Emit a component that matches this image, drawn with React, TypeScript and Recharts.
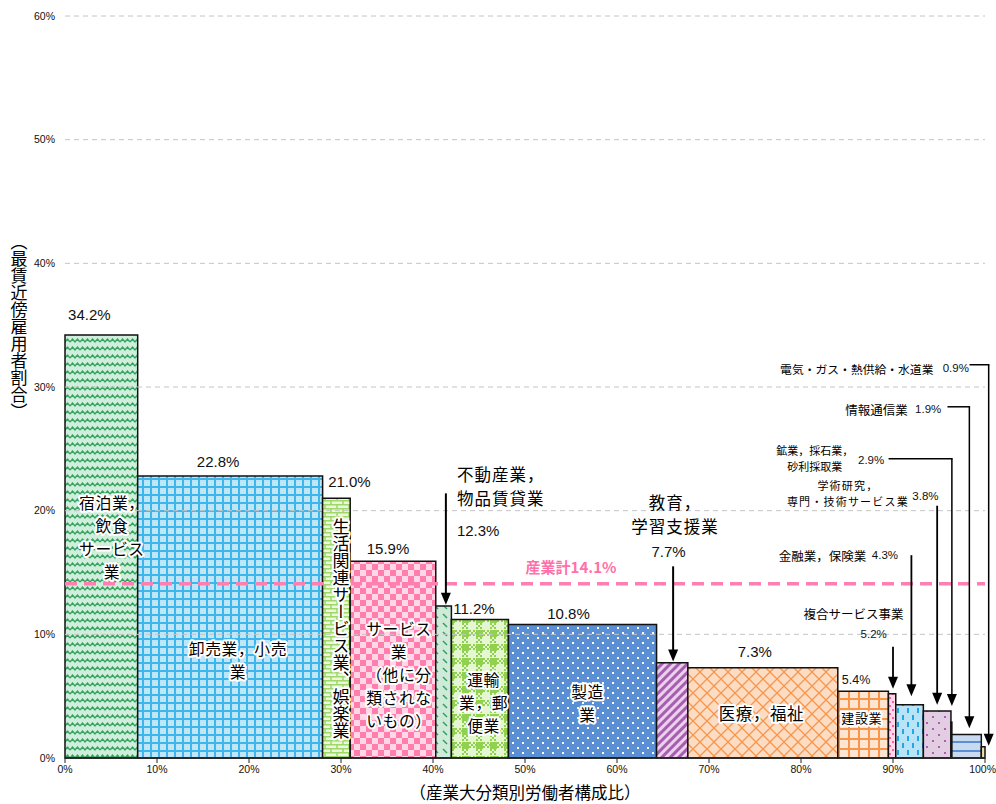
import React from 'react';
import { ComposedChart, XAxis, YAxis, ReferenceArea, ReferenceLine, ReferenceDot } from 'recharts';

// ---------------- data ----------------
const industries = [
  '宿泊業，飲食サービス業', '卸売業，小売業', '生活関連サービス業，娯楽業', 'サービス業（他に分類されないもの）',
  '不動産業，物品賃貸業', '運輸業，郵便業', '製造業', '教育，学習支援業', '医療，福祉', '建設業',
  '複合サービス事業', '金融業，保険業', '学術研究，専門・技術サービス業', '鉱業，採石業，砂利採取業',
  '情報通信業', '電気・ガス・熱供給・水道業',
];
// 最賃近傍雇用者割合 (%)
const nearMinWageShare = [34.2, 22.8, 21.0, 15.9, 12.3, 11.2, 10.8, 7.7, 7.3, 5.4, 5.2, 4.3, 3.8, 2.9, 1.9, 0.9];
// 産業大分類別労働者構成比 (%)
const workerShare = [7.9, 20.1, 3.0, 9.3, 1.7, 6.2, 16.1, 3.4, 16.3, 5.5, 0.8, 3.0, 3.0, 0.1, 3.2, 0.4];
const industryTotal = 14.1;
const totalLabel = '産業計';
const xTicks = [0, 10, 20, 30, 40, 50, 60, 70, 80, 90, 100];
const yTicks = [0, 10, 20, 30, 40, 50, 60];
const xAxisTitle = '（産業大分類別労働者構成比）';
const yAxisTitle = '（最賃近傍雇用者割合）';

// ---------------- layout / styles ----------------
const FONT = '"Noto Sans CJK JP", "Noto Sans", sans-serif';
const NUM = '"Liberation Sans Narrow", "Liberation Sans", Arial, sans-serif';
const fillIds = ['pZig', 'pGrid', 'pBrick', 'pChecker', 'pDiag', 'pPlaid', 'pDots', 'pStripe', 'pLattice', 'pBuild', 'pPinkDots', 'pDash', 'pPurpleDots', 'pMining', 'pLines', 'pTan'];

// value labels above bars: offset from bar top centre (px); null = shown via annotation
const valueLabelLayout: ({ dx: number; dy: number; fs: number } | null)[] = [
  { dx: -12, dy: 21, fs: 15 }, { dx: -12, dy: 15, fs: 15 }, { dx: 13, dy: 17, fs: 15 }, { dx: -5, dy: 13, fs: 15 },
  null, { dx: -6, dy: 11, fs: 15 }, { dx: -14, dy: 11, fs: 15 }, null, { dx: -8, dy: 16, fs: 15 },
  { dx: -7, dy: 11, fs: 12.5 }, null, null, null, null, null, null,
];

// labels inside bars (positions in data units)
const innerLabels = [
  { lines: ['宿泊業，', '飲食', 'サービス', '業'], x: 5.1, y: 20.7, lh: 23, fs: 15.8 },
  { lines: ['卸売業，小売', '業'], x: 18.8, y: 8.93, lh: 23, fs: 15.8 },
  { lines: ['サービス', '業', '（他に分', '類されな', 'いもの）'], x: 36.3, y: 10.55, lh: 23, fs: 15.8 },
  { lines: ['運輸', '業，郵', '便業'], x: 45.5, y: 6.35, lh: 23, fs: 15.8 },
  { lines: ['製造', '業'], x: 56.8, y: 5.38, lh: 23, fs: 15.8 },
  { lines: ['医療，福祉'], x: 75.7, y: 3.6, lh: 23, fs: 16.5 },
  { lines: ['建設業'], x: 86.6, y: 3.3, lh: 22, fs: 13 },
];
const verticalLabel = { text: '生活関連サービス業、娯楽業', x: 30.0, y: 10.5, fs: 17 };

// annotations with arrows (data units)
type Ann = {
  idx: number; lines: string[]; tx: number; ty: number; lh: number; fs: number; ls?: number; anchor: 'start' | 'middle' | 'end';
  vx: number; vy: number; vAnchor: 'start' | 'middle' | 'end'; vfs: number;
  ax: number; ay1: number; ay2: number; hx1?: number; sw: number;
};
const annotations: Ann[] = [
  { idx: 4, lines: ['不動産業，', '物品賃貸業'], tx: 42.6, ty: 23.0, lh: 24, fs: 16.5, ls: 1, anchor: 'start', vx: 42.6, vy: 18.4, vAnchor: 'start', vfs: 15, ax: 41.4, ay1: 21.4, ay2: 12.4, sw: 2 },
  { idx: 7, lines: ['教育，', '学習支援業'], tx: 66.3, ty: 20.7, lh: 24, fs: 16.5, ls: 1, anchor: 'middle', vx: 65.6, vy: 16.7, vAnchor: 'middle', vfs: 15, ax: 66.1, ay1: 15.5, ay2: 7.8, sw: 2 },
  { idx: 10, lines: ['複合サービス事業'], tx: 85.7, ty: 11.7, lh: 16, fs: 12.5, anchor: 'middle', vx: 87.9, vy: 10.0, vAnchor: 'middle', vfs: 11.5, ax: 90.0, ay1: 9.0, ay2: 5.6, sw: 1.8 },
  { idx: 11, lines: ['金融業，保険業'], tx: 87.1, ty: 16.4, lh: 16, fs: 12.5, anchor: 'end', vx: 87.7, vy: 16.4, vAnchor: 'start', vfs: 11.5, ax: 92.0, ay1: 16.4, ay2: 5.0, sw: 1.8 },
  { idx: 12, lines: ['学術研究，', '専門・技術サービス業'], tx: 85.1, ty: 22.07, lh: 16, fs: 11, ls: 1.2, anchor: 'middle', vx: 92.1, vy: 21.2, vAnchor: 'start', vfs: 11.5, ax: 94.8, ay1: 20.4, ay2: 4.3, sw: 1.8 },
  { idx: 13, lines: ['鉱業，採石業，', '砂利採取業'], tx: 81.5, ty: 24.9, lh: 16, fs: 11, anchor: 'middle', vx: 86.2, vy: 24.1, vAnchor: 'start', vfs: 11.5, ax: 96.4, ay1: 24.2, ay2: 4.2, hx1: 89.6, sw: 1.5 },
  { idx: 14, lines: ['情報通信業'], tx: 91.6, ty: 28.2, lh: 16, fs: 12.5, anchor: 'end', vx: 92.4, vy: 28.2, vAnchor: 'start', vfs: 11.5, ax: 98.3, ay1: 28.4, ay2: 2.4, hx1: 96.0, sw: 1.5 },
  { idx: 15, lines: ['電気・ガス・熱供給・水道業'], tx: 94.4, ty: 31.5, lh: 16, fs: 11.8, anchor: 'end', vx: 95.4, vy: 31.5, vAnchor: 'start', vfs: 11.5, ax: 100.4, ay1: 31.8, ay2: 1.0, hx1: 98.4, sw: 1.5 },
];

// ---------------- derived ----------------
const starts: number[] = [];
workerShare.reduce((acc, w, i) => { starts[i] = acc; return acc + w; }, 0);
const rows = industries.map((name, i) => ({ name, x0: starts[i], x1: starts[i] + workerShare[i], value: nearMinWageShare[i] }));
const fmt = (v: number) => `${v.toFixed(1)}%`;

const haloProps = { stroke: '#fff', strokeWidth: 4, strokeLinejoin: 'round' as const, paintOrder: 'stroke' as const };

const Patterns = () => (
  <defs>
    <pattern id="pZig" width="10" height="8" patternUnits="userSpaceOnUse">
      <rect width="10" height="8" fill="#d0eedb" />
      <path d="M0,6 L2.5,3 L5,6 L7.5,3 L10,6" fill="none" stroke="#34a360" strokeWidth="1.4" />
    </pattern>
    <pattern id="pGrid" width="8" height="8" patternUnits="userSpaceOnUse">
      <rect width="8" height="8" fill="#bfe6f8" />
      <rect x="6" y="0" width="2" height="8" fill="#3db6ec" />
      <rect x="0" y="6" width="8" height="2" fill="#3db6ec" />
    </pattern>
    <pattern id="pBrick" width="12" height="8" patternUnits="userSpaceOnUse">
      <rect width="12" height="8" fill="#ebf7dc" />
      <path d="M0,0.75 H12 M0,4.75 H12 M1,0 V4 M7,4 V8" stroke="#9fd868" strokeWidth="1.5" fill="none" />
    </pattern>
    <pattern id="pChecker" width="12" height="12" patternUnits="userSpaceOnUse">
      <rect width="12" height="12" fill="#ffd7e6" />
      <rect width="6" height="6" fill="#ff7eae" />
      <rect x="6" y="6" width="6" height="6" fill="#ff7eae" />
    </pattern>
    <pattern id="pDiag" width="9" height="9" patternUnits="userSpaceOnUse">
      <rect width="9" height="9" fill="#cdebd8" />
      <path d="M2,2 L6,6" stroke="#2f9e58" strokeWidth="1.5" />
    </pattern>
    <pattern id="pPlaid" width="14" height="14" patternUnits="userSpaceOnUse">
      <rect width="14" height="14" fill="#e4f6d2" />
      <rect width="7" height="7" fill="#92d050" />
      <rect x="7" y="0" width="2" height="2" fill="#92d050" />
      <rect x="11" y="0" width="2" height="2" fill="#92d050" />
      <rect x="9" y="2" width="2" height="2" fill="#92d050" />
      <rect x="13" y="2" width="1" height="2" fill="#92d050" />
      <rect x="7" y="4" width="2" height="2" fill="#92d050" />
      <rect x="11" y="4" width="2" height="2" fill="#92d050" />
      <rect x="0" y="7" width="2" height="2" fill="#92d050" />
      <rect x="4" y="7" width="2" height="2" fill="#92d050" />
      <rect x="2" y="9" width="2" height="2" fill="#92d050" />
      <rect x="0" y="11" width="2" height="2" fill="#92d050" />
      <rect x="4" y="11" width="2" height="2" fill="#92d050" />
    </pattern>
    <pattern id="pDots" width="10" height="10" patternUnits="userSpaceOnUse">
      <rect width="10" height="10" fill="#5b8fd3" />
      <rect x="2" y="2" width="2" height="2" fill="#fff" />
      <rect x="7" y="7" width="2" height="2" fill="#fff" />
    </pattern>
    <pattern id="pStripe" width="6" height="6" patternUnits="userSpaceOnUse" patternTransform="rotate(45)">
      <rect width="6" height="6" fill="#ecd0ec" />
      <rect width="3" height="6" fill="#a55fb0" />
    </pattern>
    <pattern id="pLattice" width="14" height="14" patternUnits="userSpaceOnUse">
      <rect width="14" height="14" fill="#fddcc4" />
      <path d="M0,0 L14,14 M14,0 L0,14" stroke="#f7964a" strokeWidth="1.3" />
    </pattern>
    <pattern id="pBuild" width="10" height="10" patternUnits="userSpaceOnUse">
      <rect width="10" height="10" fill="#fde5d2" />
      <rect x="8" y="0" width="2.2" height="10" fill="#f7964a" />
      <rect x="0" y="8" width="10" height="2.2" fill="#f7964a" />
    </pattern>
    <pattern id="pPinkDots" width="6" height="8" patternUnits="userSpaceOnUse">
      <rect width="6" height="8" fill="#ffd9e8" />
      <rect x="1" y="1" width="2" height="2" fill="#ff5fa2" />
      <rect x="4" y="5" width="2" height="2" fill="#ff5fa2" />
    </pattern>
    <pattern id="pDash" width="10" height="14" patternUnits="userSpaceOnUse">
      <rect width="10" height="14" fill="#b9e4f8" />
      <rect x="2" y="1" width="2" height="5" fill="#1fa8e3" />
      <rect x="7" y="8" width="2" height="5" fill="#1fa8e3" />
    </pattern>
    <pattern id="pPurpleDots" width="12" height="12" patternUnits="userSpaceOnUse">
      <rect width="12" height="12" fill="#e3cde3" />
      <rect x="2" y="2" width="2" height="2" fill="#b05cb0" />
      <rect x="8" y="8" width="2" height="2" fill="#b05cb0" />
    </pattern>
    <pattern id="pMining" width="4" height="4" patternUnits="userSpaceOnUse">
      <rect width="4" height="4" fill="#d9d9d9" />
    </pattern>
    <pattern id="pLines" width="9" height="9" patternUnits="userSpaceOnUse">
      <rect width="9" height="9" fill="#c9daf0" />
      <rect x="0" y="3" width="9" height="2" fill="#5b8fd3" />
    </pattern>
    <pattern id="pTan" width="4" height="4" patternUnits="userSpaceOnUse">
      <rect width="4" height="4" fill="#f2dfae" />
    </pattern>
  </defs>
);

const arrowShape = (sw: number) => (p: any) => {
  const { x1, y1, x2, y2 } = p;
  const head = 12;
  const half = 5;
  return (
    <g>
      <line x1={x1} y1={y1} x2={x2} y2={y2 - head + 1} stroke="#000" strokeWidth={sw} />
      <polygon points={`${x2 - half},${y2 - head} ${x2 + half},${y2 - head} ${x2},${y2}`} fill="#000" />
    </g>
  );
};
const plainLine = (sw: number) => (p: any) => (
  <line x1={p.x1 - sw / 2} y1={p.y1} x2={p.x2 + sw / 2} y2={p.y2} stroke="#000" strokeWidth={sw} />
);

const multiLine = (cx: number, cy: number, lines: string[], lh: number, extra: any) => (
  <text x={cx} y={cy} dominantBaseline="central" {...extra}>
    {lines.map((l, j) => (
      <tspan key={j} x={cx} dy={j === 0 ? 0 : lh}>
        {l}
      </tspan>
    ))}
  </text>
);

const XTick = (props: any) => {
  const { x, y, payload } = props;
  const last = payload.value === 100;
  return (
    <text x={last ? x + 11 : x} y={y} dy={8} textAnchor={last ? 'end' : 'middle'} fontSize={10.5} fontFamily={NUM} fill="#111">
      {`${payload.value}%`}
    </text>
  );
};

export default function App() {
  return (
    <div style={{ position: 'absolute', left: 0, top: 0, width: 996, height: 804, background: '#fff' }}>
      <ComposedChart width={996} height={804} data={rows} margin={{ top: 16, right: 11, bottom: 0, left: 25 }}>
        <Patterns />
        <XAxis
          type="number"
          dataKey="x0"
          domain={[0, 100]}
          ticks={xTicks}
          interval={0}
          height={46}
          tickSize={5}
          tickMargin={2}
          axisLine={{ stroke: '#222', strokeWidth: 1.5 }}
          tickLine={{ stroke: '#222' }}
          tick={<XTick />}
          label={(p: any) => (
            <text
              x={p.viewBox.x + p.viewBox.width / 2}
              y={792}
              fontSize={16.5}
              fontFamily={FONT}
              fill="#000"
              textAnchor="middle"
              dominantBaseline="central"
            >
              {xAxisTitle}
            </text>
          )}
        />
        <YAxis
          type="number"
          dataKey="value"
          domain={[0, 60]}
          ticks={yTicks}
          interval={0}
          width={40}
          tickFormatter={(v: number) => `${v}%`}
          axisLine={false}
          tickLine={false}
          tickMargin={4}
          tick={{ fontSize: 10.5, fill: '#111', fontFamily: NUM }}
          label={(p: any) => (
            <text
              x={p.viewBox.x - 6}
              y={327}
              fontSize={17}
              fontFamily={FONT}
              fill="#000"
              textAnchor="middle"
              style={{ writingMode: 'vertical-rl' as any }}
            >
              {yAxisTitle}
            </text>
          )}
        />

        {rows.map((r, i) => {
          const vl = valueLabelLayout[i];
          return (
            <ReferenceArea
              key={`bar-${i}`}
              x1={r.x0}
              x2={r.x1}
              y1={0}
              y2={r.value}
              fill={`url(#${fillIds[i]})`}
              fillOpacity={1}
              stroke="#111"
              strokeWidth={1.5}
              ifOverflow="visible"
              label={
                vl
                  ? (p: any) => (
                      <text
                        x={p.viewBox.x + p.viewBox.width / 2 + vl.dx}
                        y={p.viewBox.y - vl.dy}
                        fontSize={vl.fs}
                        fontFamily={NUM}
                        fill="#111"
                        textAnchor="middle"
                        dominantBaseline="central"
                      >
                        {fmt(r.value)}
                      </text>
                    )
                  : undefined
              }
            />
          );
        })}

        {yTicks.filter((t) => t > 0).map((t) => (
          <ReferenceLine key={`g-${t}`} y={t} stroke="#c4c4c4" strokeDasharray="5 4" strokeWidth={1} />
        ))}

        <ReferenceLine y={industryTotal} stroke="#ff80b0" strokeWidth={3.5} strokeDasharray="12 7" />

        {annotations.map((a) => (
          <ReferenceLine
            key={`arr-${a.idx}`}
            segment={[{ x: a.ax, y: a.ay1 }, { x: a.ax, y: a.ay2 }]}
            ifOverflow="visible"
            shape={arrowShape(a.sw)}
          />
        ))}
        {annotations.filter((a) => a.hx1 !== undefined).map((a) => (
          <ReferenceLine
            key={`h-${a.idx}`}
            segment={[{ x: a.hx1 as number, y: a.ay1 }, { x: a.ax, y: a.ay1 }]}
            ifOverflow="visible"
            shape={plainLine(a.sw)}
          />
        ))}

        {innerLabels.map((lab, k) => (
          <ReferenceDot
            key={`in-${k}`}
            x={lab.x}
            y={lab.y}
            ifOverflow="visible"
            shape={(p: any) =>
              multiLine(p.cx, p.cy, lab.lines, lab.lh, {
                fontSize: lab.fs,
                fontFamily: FONT,
                fill: '#000',
                textAnchor: 'middle',
                letterSpacing: 0.6,
                ...haloProps,
              })
            }
          />
        ))}
        <ReferenceDot
          x={verticalLabel.x}
          y={verticalLabel.y}
          ifOverflow="visible"
          shape={(p: any) => (
            <text x={p.cx} y={p.cy} fontSize={verticalLabel.fs} fontFamily={FONT} fill="#000" textAnchor="middle" style={{ writingMode: 'vertical-rl' as any }} {...haloProps}>
              {verticalLabel.text}
            </text>
          )}
        />

        {annotations.map((a) => (
          <ReferenceDot
            key={`at-${a.idx}`}
            x={a.tx}
            y={a.ty}
            ifOverflow="visible"
            shape={(p: any) =>
              multiLine(p.cx, p.cy, a.lines, a.lh, {
                fontSize: a.fs,
                fontFamily: FONT,
                fill: '#000',
                textAnchor: a.anchor,
                letterSpacing: a.ls ?? 0,
              })
            }
          />
        ))}
        {annotations.map((a) => (
          <ReferenceDot
            key={`av-${a.idx}`}
            x={a.vx}
            y={a.vy}
            ifOverflow="visible"
            shape={(p: any) => (
              <text x={p.cx} y={p.cy} fontSize={a.vfs} fontFamily={NUM} fill="#111" textAnchor={a.vAnchor} dominantBaseline="central">
                {fmt(nearMinWageShare[a.idx])}
              </text>
            )}
          />
        ))}

        <ReferenceDot
          x={55.0}
          y={15.5}
          ifOverflow="visible"
          shape={(p: any) => (
            <text x={p.cx} y={p.cy} fontSize={15} fontWeight="bold" fontFamily={FONT} fill="#ff70a8" textAnchor="middle" dominantBaseline="central">
              {`${totalLabel}${industryTotal.toFixed(1)}%`}
            </text>
          )}
        />
      </ComposedChart>
    </div>
  );
}
